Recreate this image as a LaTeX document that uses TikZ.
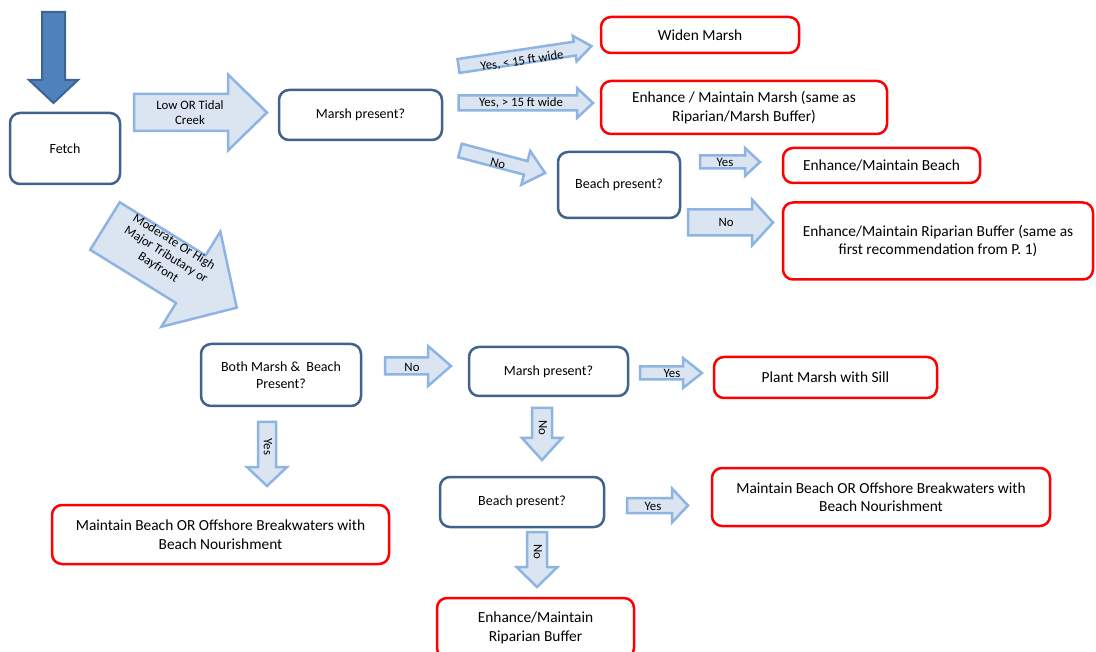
\documentclass[tikz,border=0pt]{standalone}
\usepackage{fontspec}
\setmainfont{Carlito}
\definecolor{boxblue}{HTML}{41618E}
\definecolor{boxred}{HTML}{FF0000}
\definecolor{arrfill}{HTML}{DBE5F1}
\definecolor{arrline}{HTML}{8EB4E3}
\definecolor{darkfill}{HTML}{4F81BD}
\definecolor{darkline}{HTML}{3C6494}
\newcommand\blockarrow[7]{%
  \begin{scope}[shift={#2},rotate=#3]
  \draw[#1] (0,{-#4}) -- ({#5-#7},{-#4}) -- ({#5-#7},{-#6}) -- (#5,0) -- ({#5-#7},{#6}) -- ({#5-#7},{#4}) -- (0,{#4}) -- cycle;
  \end{scope}}
\tikzset{
  bluebox/.style={draw=boxblue, line width=2.5pt, rounded corners=10pt, fill=white, inner sep=0pt, align=center, font=\fontsize{14}{17}\selectfont},
  redbox/.style={draw=boxred, line width=2.5pt, rounded corners=10pt, fill=white, inner sep=0pt, align=center, font=\fontsize{15.4}{18.5}\selectfont},
  lightarr/.style={draw=arrline, fill=arrfill, line width=2.5pt, line join=miter},
  darkarr/.style={draw=darkline, fill=darkfill, line width=2pt, line join=miter},
  arrlabel/.style={inner sep=0pt, align=center, font=\fontsize{12.8}{15}\selectfont}
}
\begin{document}
\begin{tikzpicture}[x=1pt,y=-1pt]
\fill[white] (0,0) rectangle (1096,652);
\useasboundingbox (0,0) rectangle (1096,652);
\clip (0,0) rectangle (1096,652);

% block arrows
\blockarrow{darkarr}{(53.5,12)}{-90}{11.5}{91}{24.5}{23}
\blockarrow{lightarr}{(134,112.5)}{0}{18.5}{133}{38}{39}
\blockarrow{lightarr}{(458.5,66)}{8.5}{7}{134.5}{13}{17}
\blockarrow{lightarr}{(458.5,103)}{0}{7.5}{134.5}{15}{16}
\blockarrow{lightarr}{(460,150.5)}{-14.8}{7}{88}{17.5}{20}
\blockarrow{lightarr}{(700,162)}{0}{6.5}{60}{14}{15}
\blockarrow{lightarr}{(688,222.5)}{0}{13}{85}{23}{21}
\blockarrow{lightarr}{(105,226)}{-31.8}{28}{155}{56}{54}
\blockarrow{lightarr}{(385,366)}{0}{8.5}{66}{20}{23}
\blockarrow{lightarr}{(267,422)}{-90}{9}{64}{20}{19}
\blockarrow{lightarr}{(542,408)}{-90}{10}{52}{20}{22}
\blockarrow{lightarr}{(537,532)}{-90}{10}{55}{20.5}{20}
\blockarrow{lightarr}{(627,505.5)}{0}{7.5}{61}{17}{16}
\blockarrow{lightarr}{(640,373)}{0}{6.5}{62}{15}{19}

% arrow labels
\node[arrlabel] (lLow) at (190,113) {Low OR Tidal\\Creek};
\node[arrlabel, rotate=8.5] (lYes1) at (522,61) {Yes, < 15 ft wide};
\node[arrlabel] (lYes2) at (521,103) {Yes, > 15 ft wide};
\node[arrlabel, rotate=-14.8] (lNo1) at (498,163) {No};
\node[arrlabel] (lYes3) at (725,162) {Yes};
\node[arrlabel] (lNo2) at (726,222) {No};
\node[arrlabel, rotate=-31.8] (lMod) at (166,255) {Moderate Or High\\Major Tributary or\\Bayfront};
\node[arrlabel] (lNo3) at (412,367) {No};
\node[arrlabel, rotate=-90] (lYes4) at (268,447) {Yes};
\node[arrlabel, rotate=-90] (lNo4) at (543,428) {No};
\node[arrlabel, rotate=-90] (lNo5) at (538,552) {No};
\node[arrlabel] (lYes5) at (653,506) {Yes};
\node[arrlabel] (lYes6) at (672,373) {Yes};

% boxes
\node[bluebox, minimum width=110pt, minimum height=71pt] (fetch) at (65,148.5) {Fetch};
\node[bluebox, minimum width=163pt, minimum height=50pt] (marsh1) at (360.5,115) {Marsh present?};
\node[redbox, minimum width=198pt, minimum height=36pt] (widen) at (700,35) {Widen Marsh};
\node[redbox, minimum width=286pt, minimum height=53pt] (enhmarsh) at (744,107.5) {Enhance / Maintain Marsh (same as\\Riparian/Marsh Buffer)};
\node[bluebox, minimum width=122pt, minimum height=66pt] (beach1) at (619,185) {Beach present?};
\node[redbox, minimum width=197pt, minimum height=35pt] (enhbeach) at (881.5,165.5) {Enhance/Maintain Beach};
\node[redbox, minimum width=310pt, minimum height=77pt] (ripar1) at (938,241) {Enhance/Maintain Riparian Buffer (same as\\first recommendation from P. 1)};
\node[bluebox, minimum width=160pt, minimum height=62pt] (both) at (281,375) {Both Marsh \&\ \ Beach\\Present?};
\node[bluebox, minimum width=159pt, minimum height=49pt] (marsh2) at (548.5,371.5) {Marsh present?};
\node[redbox, minimum width=223pt, minimum height=41pt] (sill) at (825.5,377.5) {Plant Marsh with Sill};
\node[bluebox, minimum width=164pt, minimum height=50pt] (beach2) at (522,502) {Beach present?};
\node[redbox, minimum width=338pt, minimum height=58pt] (maintR) at (881,497) {Maintain Beach OR Offshore Breakwaters with\\Beach Nourishment};
\node[redbox, minimum width=337pt, minimum height=59pt] (maintL) at (220.5,534.5) {Maintain Beach OR Offshore Breakwaters with\\Beach Nourishment};
\node[redbox, minimum width=197pt, minimum height=60pt] (ripar2) at (535.5,628) {Enhance/Maintain\\Riparian Buffer};
\end{tikzpicture}
\end{document}
